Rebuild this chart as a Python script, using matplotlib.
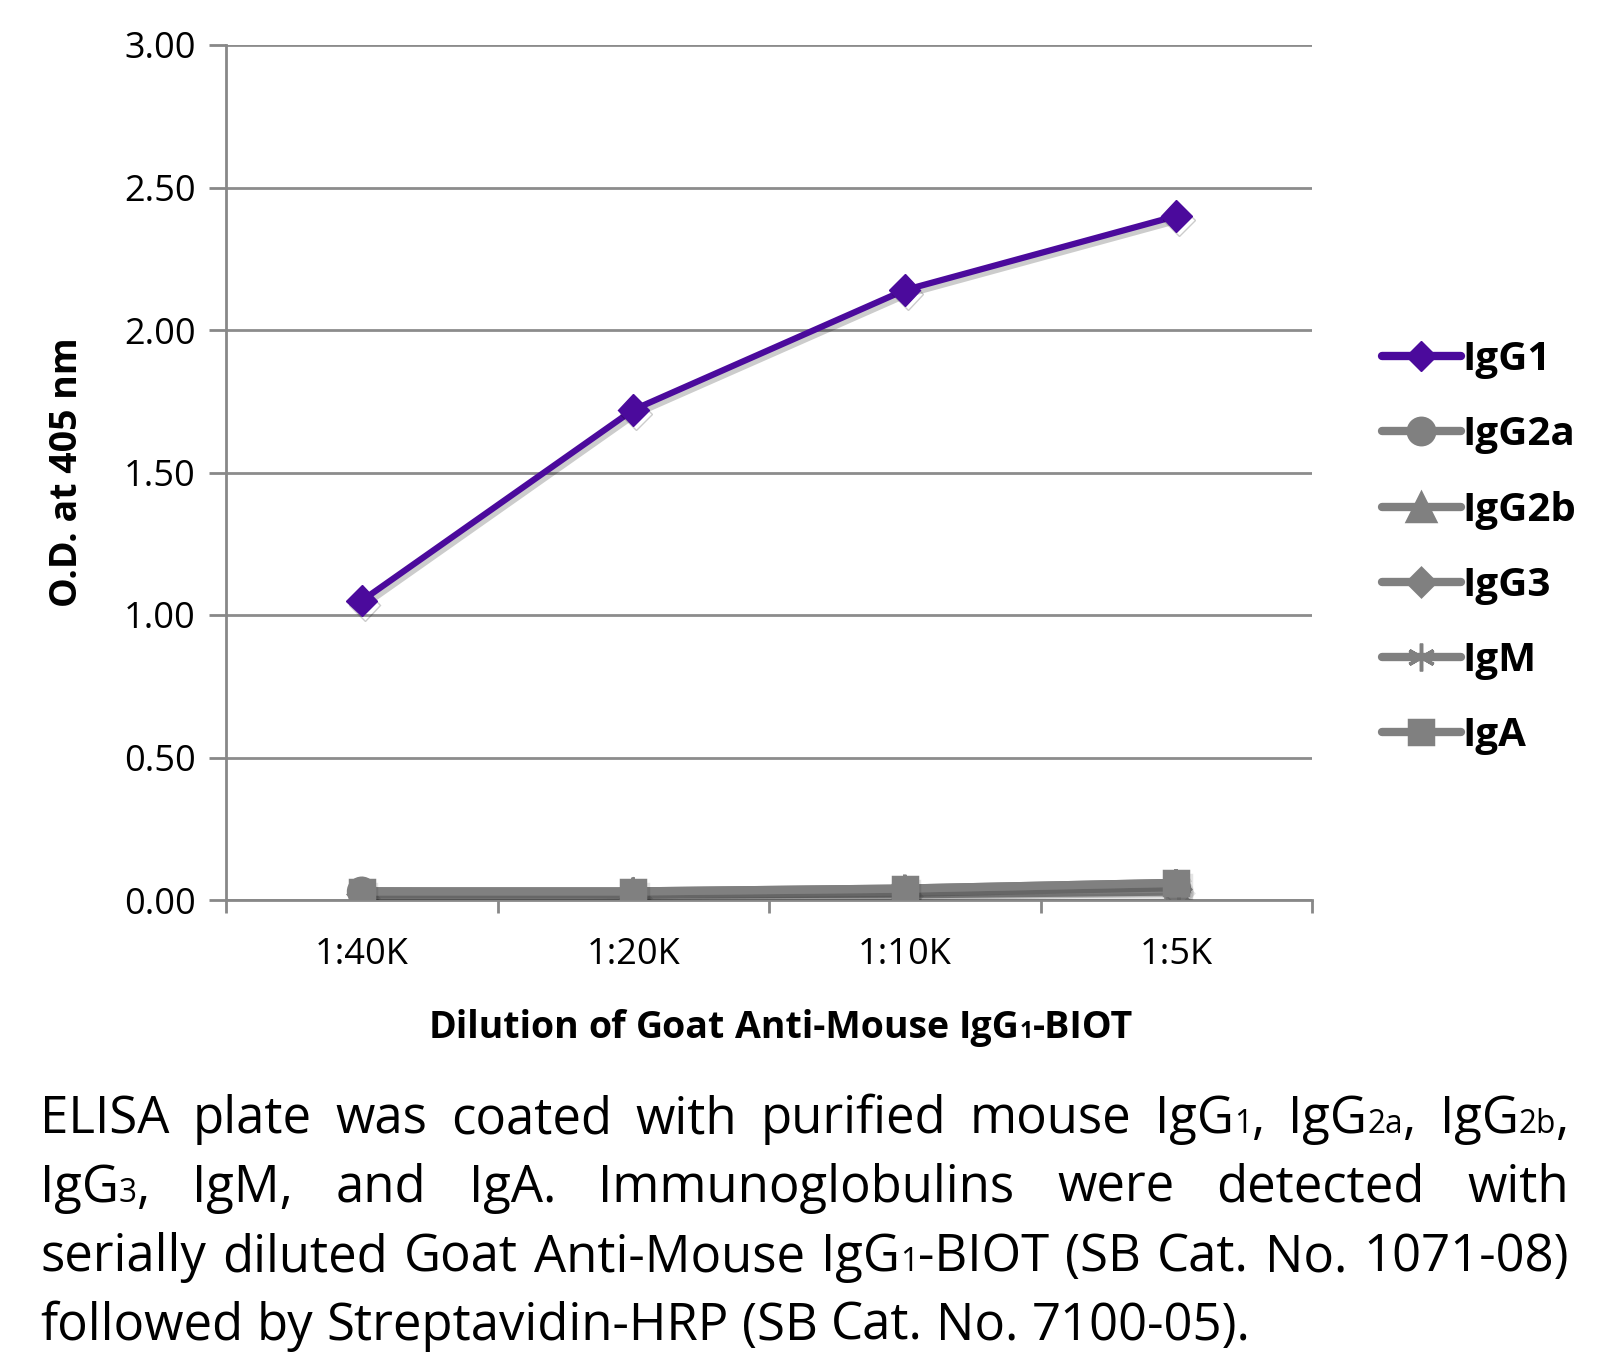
import matplotlib
matplotlib.use('Agg')
from matplotlib import pyplot as plt
from matplotlib.lines import Line2D
from matplotlib.transforms import IdentityTransform
import matplotlib.patheffects as pe
import numpy as np

dilutions = ['1:40K', '1:20K', '1:10K', '1:5K']
igg1 = [1.05, 1.72, 2.14, 2.40]
igg2a = [0.03, 0.02, 0.03, 0.04]
igg2b = [0.02, 0.02, 0.02, 0.03]
igg3 = [0.02, 0.02, 0.03, 0.04]
igm = [0.03, 0.03, 0.04, 0.06]
iga = [0.03, 0.03, 0.04, 0.06]
series_names = ['IgG1', 'IgG2a', 'IgG2b', 'IgG3', 'IgM', 'IgA']
y_ticks = [0.0, 0.5, 1.0, 1.5, 2.0, 2.5, 3.0]

FONT = 'Open Sans'
PURPLE = '#4b0a9c'
GRAY = '#808080'
W, H = 1623, 1360

fig = plt.figure(figsize=(W / 100, H / 100), dpi=100)
ax = fig.add_axes([226 / W, 1 - 900 / H, (1312 - 226) / W, (900 - 45) / H])

shadow = [pe.SimpleLineShadow(offset=(2, -3), shadow_color='k', alpha=0.2), pe.Normal()]
gray_shadow = [pe.SimpleLineShadow(offset=(2, -3), shadow_color='k', alpha=0.1), pe.Normal()]
x = np.arange(len(dilutions))

gray_series = [(igg2a, 'o', 19), (igg2b, '^', 20), (igg3, 'D', 14),
               (igm, (6, 2, 0), 20), (iga, 's', 17)]
for vals, mk, ms in gray_series:
    ax.plot(x, vals, color=GRAY, lw=6, marker=mk, ms=ms, mew=2.5,
            mec=GRAY, mfc=GRAY, path_effects=gray_shadow, zorder=3)
ax.plot(x, igg1, color=PURPLE, lw=4.5, marker='D', ms=16, mec=PURPLE,
        mfc=PURPLE, path_effects=shadow, zorder=4)

ax.set_xlim(-0.5, len(dilutions) - 0.5)
ax.set_ylim(0, 3.0)
ax.set_yticks(y_ticks)
ax.set_yticklabels(['%.2f' % v for v in y_ticks], fontsize=26, family=FONT)
ax.set_xticks(x)
ax.set_xticklabels(dilutions, fontsize=26, family=FONT)
ax.set_xticks(np.arange(len(dilutions) + 1) - 0.5, minor=True)
ax.tick_params(axis='x', which='major', length=0, pad=27)
ax.tick_params(axis='x', which='minor', length=9, width=2, color='#888888')
ax.tick_params(axis='y', length=12, width=2, color='#888888', pad=10)
ax.grid(axis='y', color='#8c8c8c', lw=2)
ax.set_axisbelow(True)
for s in ['top', 'right']:
    ax.spines[s].set_visible(False)
for s in ['left', 'bottom']:
    ax.spines[s].set_color('#888888')
    ax.spines[s].set_linewidth(2)

ax.set_ylabel('O.D. at 405 nm', fontsize=27, fontweight='bold', family=FONT, labelpad=27)

# legend
handles = [Line2D([], [], color=PURPLE, lw=6, marker='D', ms=15, solid_capstyle='round')]
for vals, mk, ms in gray_series:
    handles.append(Line2D([], [], color=GRAY, lw=6, marker=mk, ms=ms, mew=2.5,
                          solid_capstyle='round'))
fig.legend(handles, series_names, loc='upper left', bbox_to_anchor=(1362 / W, 1 - 320 / H),
           frameon=False, prop={'family': FONT, 'weight': 'bold', 'size': 29},
           handlelength=1.95, handletextpad=0.05, labelspacing=0.9, borderpad=0)

renderer = fig.canvas.get_renderer()


def make_word(word, y, size, weight):
    # word: list of (text, is_small)
    parts = []
    for txt, small in word:
        t = fig.text(0, y, txt, transform=IdentityTransform(), family=FONT,
                     fontsize=size * (0.62 if small else 1.0), fontweight=weight,
                     va='baseline', ha='left')
        parts.append(t)
    return parts


def place_line(words, y, size, weight='normal', x0=0, x1=None, mode='left'):
    built = [make_word(w, y, size, weight) for w in words]
    widths = []
    for parts in built:
        widths.append(sum(p.get_window_extent(renderer).width for p in parts))
    space = size * 100 / 72 * 0.26
    total = sum(widths) + space * (len(words) - 1)
    if mode == 'justify':
        gap = (x1 - x0 - sum(widths)) / (len(words) - 1)
        start = x0
    elif mode == 'center':
        gap = space
        start = x0 - total / 2
    else:
        gap = space
        start = x0
    cx = start
    for parts, wd in zip(built, widths):
        px = cx
        for p in parts:
            p.set_position((px, y))
            px += p.get_window_extent(renderer).width
        cx += wd + gap
    return total


def parse(line):
    words = []
    for w in line.split(' '):
        segs = []
        for i, chunk in enumerate(w.split('_')):
            if i == 0:
                if chunk:
                    segs.append((chunk, False))
            else:
                small, rest = chunk[1:].split('}', 1)
                segs.append((small, True))
                if rest:
                    segs.append((rest, False))
        words.append(segs)
    return words


xlabel_words = parse('Dilution of Goat Anti-Mouse IgG_{1}-BIOT')
place_line(xlabel_words, H - 1038, 27, 'bold', x0=(226 + 1312) / 2 + 12, mode='center')

caption = [
    'ELISA plate was coated with purified mouse IgG_{1}, IgG_{2a}, IgG_{2b},',
    'IgG_{3}, IgM, and IgA. Immunoglobulins were detected with',
    'serially diluted Goat Anti-Mouse IgG_{1}-BIOT (SB Cat. No. 1071-08)',
    'followed by Streptavidin-HRP (SB Cat. No. 7100-05).',
]
left, right = 40, 1569
# fit font size so that the widest justified line fills the width
test_size = 30
n_before = len(fig.texts)
widest = max(place_line(parse(c), -500, test_size) for c in caption[:-1])
fig.texts = fig.texts[:n_before]
cap_size = test_size * (right - left) / widest * 0.985
baselines = [1133, 1202, 1271, 1340]
for i, (line, yb) in enumerate(zip(caption, baselines)):
    mode = 'justify' if i < len(caption) - 1 else 'left'
    place_line(parse(line), H - yb, cap_size, x0=left, x1=right, mode=mode)

fig.savefig('out.png', dpi=100)
